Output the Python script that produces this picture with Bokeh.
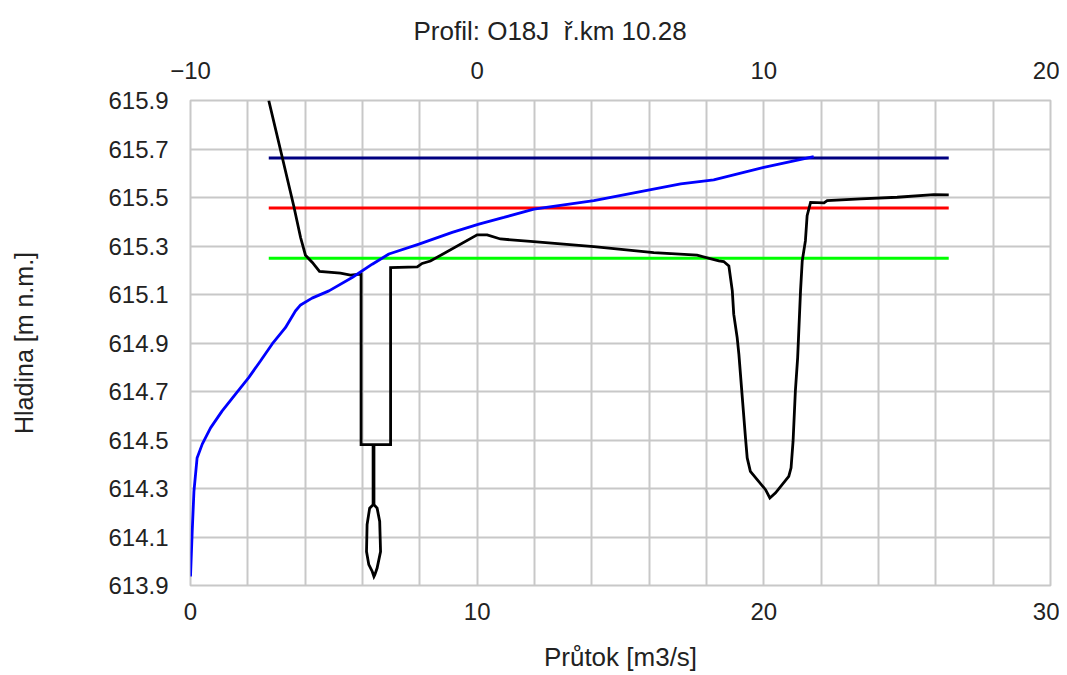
from bokeh.plotting import figure
from bokeh.models import Range1d, LinearAxis, FixedTicker, Grid
from bokeh.embed import file_html
from bokeh.resources import INLINE

# ---- data ----
title_text = "Profil: O18J\u00a0 ř.km 10.28"
x_label = "Průtok [m3/s]"
y_label = "Hladina [m n.m.]"

bottom_ticks = [0, 10, 20, 30]
top_ticks = [-10, 0, 10, 20]
y_ticks = [613.9, 614.1, 614.3, 614.5, 614.7, 614.9, 615.1, 615.3, 615.5, 615.7, 615.9]
x_grid = [0, 2, 4, 6, 8, 10, 12, 14, 16, 18, 20, 22, 24, 26, 28, 30]

# rating curve (discharge vs level), bottom axis
q_rating = [0, 0.06, 0.12, 0.23, 0.41, 0.70, 1.10, 1.57, 2.03, 2.44, 2.85, 3.31, 3.66,
            3.84, 4.24, 4.83, 5.64, 6.34, 6.92, 7.97, 9.13, 10.06, 10.93, 11.98, 14.07,
            17.1, 18.25, 20.0, 21.74]
h_rating = [613.937, 614.123, 614.288, 614.426, 614.483, 614.55, 614.619, 614.689,
            614.757, 614.826, 614.896, 614.963, 615.032, 615.057, 615.085, 615.115,
            615.17, 615.225, 615.267, 615.308, 615.356, 615.39, 615.418, 615.452,
            615.487, 615.556, 615.573, 615.624, 615.669]

# cross-section profile (station vs elevation), top axis
st_profile = [-7.27, -6.80, -6.40, -6.16, -5.99, -5.75, -5.50, -4.77, -4.42, -4.05,
              -4.05, -3.63, -3.63, -3.75, -3.84, -3.86, -3.78, -3.66, -3.60, -3.57,
              -3.49, -3.37, -3.40, -3.49, -3.60, -3.60, -3.02, -3.02, -2.09, -1.92,
              -1.63, 0.0, 0.35, 0.81, 1.86, 4.07, 6.16, 7.67, 8.43, 8.60, 8.78, 8.90,
              8.95, 9.07, 9.13, 9.24, 9.36, 9.42, 9.53, 10.06, 10.21, 10.41, 10.87,
              10.95, 11.02, 11.10, 11.18, 11.28, 11.34, 11.45, 11.51, 11.63, 12.10,
              12.21, 13.37, 14.65, 15.93, 16.45]
z_profile = [615.90, 615.666, 615.466, 615.335, 615.262, 615.232, 615.195, 615.188,
             615.18, 615.184, 614.481, 614.481, 614.233, 614.219, 614.151, 614.04,
             613.986, 613.958, 613.937, 613.944, 613.972, 614.04, 614.164, 614.219,
             614.233, 614.481, 614.481, 615.211, 615.214, 615.228, 615.238, 615.346,
             615.346, 615.329, 615.319, 615.297, 615.273, 615.262, 615.239, 615.236,
             615.218, 615.115, 615.019, 614.922, 614.853, 614.688, 614.509, 614.426,
             614.371, 614.295, 614.261, 614.282, 614.35, 614.385, 614.495, 614.702,
             614.84, 615.115, 615.239, 615.321, 615.425, 615.48, 615.478, 615.487,
             615.494, 615.501, 615.512, 615.511]

# water levels, top axis
level_extent = [-7.27, 16.45]
level_values = [615.663, 615.457, 615.25]
level_colors = ["#000080", "#ff0000", "#00ff00"]

FONT = "Liberation Sans"
FS = "24px"
TXT = "#222222"
GRID = "#c8c8c8"

p = figure(frame_width=860, frame_height=485,
           min_border_left=190, min_border_right=9, min_border_top=100, min_border_bottom=86,
           x_range=Range1d(0, 30), y_range=Range1d(613.9, 615.9),
           output_backend="svg", toolbar_location=None, title=title_text)
p.extra_x_ranges = {"top": Range1d(-10, 20)}

p.title.text_font = FONT
p.title.text_font_size = "26px"
p.title.text_font_style = "normal"
p.title.text_color = TXT
p.title.align = "left"
p.title.offset = 223
p.title.standoff = 25

p.outline_line_color = GRID
p.outline_line_width = 2
p.background_fill_color = "white"
p.border_fill_color = "white"

p.xgrid.visible = False
p.ygrid.visible = False
p.add_layout(Grid(dimension=0, ticker=FixedTicker(ticks=x_grid),
                  grid_line_color=GRID, grid_line_width=2))
p.add_layout(Grid(dimension=1, ticker=FixedTicker(ticks=y_ticks),
                  grid_line_color=GRID, grid_line_width=2))

def style_axis(ax, standoff):
    ax.axis_line_color = None
    ax.major_tick_line_color = None
    ax.minor_tick_line_color = None
    ax.major_label_text_font = FONT
    ax.major_label_text_font_size = FS
    ax.major_label_text_color = TXT
    ax.major_label_standoff = standoff
    ax.axis_label_text_font = FONT
    ax.axis_label_text_font_style = "normal"
    ax.axis_label_text_color = TXT

xa = p.xaxis[0]
xa.ticker = FixedTicker(ticks=bottom_ticks)
xa.axis_label = x_label
style_axis(xa, 11)
xa.axis_label_text_font_size = "26px"
xa.axis_label_standoff = 19

ya = p.yaxis[0]
ya.ticker = FixedTicker(ticks=y_ticks)
ya.axis_label = y_label
style_axis(ya, 16)
ya.axis_label_text_font_size = "25px"
ya.axis_label_standoff = 67

top = LinearAxis(x_range_name="top", ticker=FixedTicker(ticks=top_ticks))
style_axis(top, 16)
p.add_layout(top, "above")

for v, c in zip(level_values, level_colors):
    p.line(level_extent, [v, v], x_range_name="top", line_color=c, line_width=3)

p.line(st_profile, z_profile, x_range_name="top", line_color="black", line_width=2.8,
       line_join="miter")
p.line(q_rating, h_rating, line_color="#0000ff", line_width=2.8)

open("out.html", "w").write(file_html(p, INLINE))
